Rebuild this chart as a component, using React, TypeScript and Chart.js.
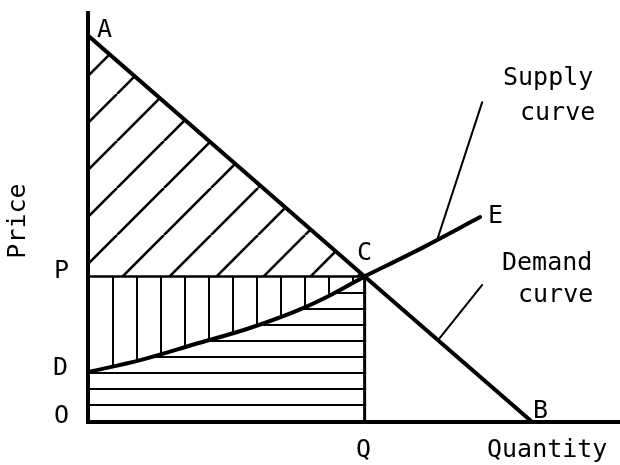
import { useEffect, useRef } from 'react';
import { Chart, registerables } from 'chart.js';

Chart.register(...registerables);

// ---- data (quantity 0..100, price 0..100) ----
const demandQuantity = [0, 83.5];          // A ... B
const demandPrice = [94.5, 0];
const eqQuantity = 52;                       // Q (point C)
const eqPrice = 35.6;                        // P (point C)
const supplyQuantity = [0, 10, 20, 30, 40, 46, 52, 63, 73.7];   // D ... C ... E
const supplyPrice = [12.2, 15.2, 19.0, 22.8, 27.6, 31.3, 35.6, 42.7, 50.1];
const supplyLeaderQuantity = [74.1, 65.6];
const supplyLeaderPrice = [78.2, 44.4];
const demandLeaderQuantity = [74.1, 65.8];
const demandLeaderPrice = [33.5, 20.0];

const FONT = '25px "DejaVu Sans Mono"';

type P = { x: number; y: number };
const pts = (xs: number[], ys: number[]): P[] => xs.map((x, i) => ({ x, y: ys[i] }));

function makePattern(kind: 'diag' | 'vert' | 'horiz'): CanvasPattern {
  const c = document.createElement('canvas');
  const g = c.getContext('2d')!;
  let tx = 0, ty = 0;
  if (kind === 'diag') {
    const s = 47;
    c.width = s; c.height = s;
    g.strokeStyle = '#000';
    g.lineWidth = 2.6;
    for (const k of [-s, 0, s]) {
      g.beginPath();
      g.moveTo(k, s);
      g.lineTo(k + s, 0);
      g.stroke();
    }
    tx = 23;
  } else if (kind === 'vert') {
    c.width = 24; c.height = 8;
    g.fillStyle = '#000';
    g.fillRect(0, 0, 2, 8);
    tx = 16;
  } else {
    c.width = 8; c.height = 16;
    g.fillStyle = '#000';
    g.fillRect(0, 0, 8, 2);
    ty = 4;
  }
  const p = g.createPattern(c, 'repeat')!;
  p.setTransform(new DOMMatrix([1, 0, 0, 1, tx, ty]));
  return p;
}

export default function App() {
  const ref = useRef<HTMLCanvasElement>(null);

  useEffect(() => {
    const canvas = ref.current!;
    const diag = makePattern('diag');
    const vert = makePattern('vert');
    const horiz = makePattern('horiz');

    const supplyAll = pts(supplyQuantity, supplyPrice);
    const supplyLeft = supplyAll.filter((p) => p.x <= eqQuantity);
    const supplyRight = supplyAll.filter((p) => p.x >= eqQuantity);
    const A = { x: demandQuantity[0], y: demandPrice[0] };
    const B = { x: demandQuantity[1], y: demandPrice[1] };
    const C = { x: eqQuantity, y: eqPrice };

    const overlay = {
      id: 'overlay',
      afterDatasetsDraw(chart: any) {
        const ctx = chart.ctx as CanvasRenderingContext2D;
        const xs = chart.scales.x;
        const ys = chart.scales.y;
        const x0 = xs.getPixelForValue(0);
        const y0 = ys.getPixelForValue(0);
        ctx.save();
        ctx.strokeStyle = '#000';
        ctx.lineWidth = 4;
        ctx.lineCap = 'square';
        ctx.beginPath();
        ctx.moveTo(x0, ys.getPixelForValue(100));
        ctx.lineTo(x0, y0);
        ctx.lineTo(xs.getPixelForValue(100), y0);
        ctx.stroke();

        ctx.fillStyle = '#000';
        ctx.font = FONT;
        ctx.textAlign = 'left';
        ctx.textBaseline = 'alphabetic';
        const labels: [string, number, number][] = [
          ['A', 97, 37],
          ['Supply', 503, 85],
          ['curve', 520, 120],
          ['E', 488, 223],
          ['C', 357, 260],
          ['Demand', 502, 270],
          ['curve', 518, 302],
          ['P', 54, 278],
          ['D', 53, 375],
          ['O', 54, 423],
          ['B', 533, 418],
          ['Q', 356, 457],
          ['Quantity', 487, 457],
        ];
        for (const [t, x, y] of labels) ctx.fillText(t, x, y);

        ctx.translate(25, 221);
        ctx.rotate(-Math.PI / 2);
        ctx.textAlign = 'center';
        ctx.fillText('Price', 0, 0);
        ctx.restore();
      },
    };

    const chart = new Chart(canvas, {
      type: 'line',
      data: {
        datasets: [
          {
            label: 'P line',
            data: [{ x: 0, y: eqPrice }, C],
            borderWidth: 2.5,
            fill: { target: 1, above: vert, below: vert } as any,
          },
          {
            label: 'Supply D-C',
            data: supplyLeft,
            borderWidth: 4,
            cubicInterpolationMode: 'monotone',
            fill: { target: 'origin', above: horiz, below: horiz } as any,
          },
          {
            label: 'Supply C-E',
            data: supplyRight,
            borderWidth: 4,
            cubicInterpolationMode: 'monotone',
            fill: false,
          },
          {
            label: 'Demand A-C',
            data: [A, C],
            borderWidth: 4,
            fill: { value: eqPrice, above: diag, below: diag } as any,
          },
          {
            label: 'Demand C-B',
            data: [C, B],
            borderWidth: 4,
            fill: false,
          },
          {
            label: 'Q line',
            data: [{ x: eqQuantity, y: 0 }, C],
            borderWidth: 3,
            fill: false,
          },
          {
            label: 'Supply leader',
            data: pts(supplyLeaderQuantity, supplyLeaderPrice),
            borderWidth: 2,
            fill: false,
          },
          {
            label: 'Demand leader',
            data: pts(demandLeaderQuantity, demandLeaderPrice),
            borderWidth: 2,
            fill: false,
          },
        ],
      },
      options: {
        responsive: false,
        animation: false,
        devicePixelRatio: 1,
        layout: { padding: { left: 88, right: 0, top: 13, bottom: 43 } },
        scales: {
          x: { type: 'linear', min: 0, max: 100, display: false },
          y: { type: 'linear', min: 0, max: 100, display: false },
        },
        plugins: { legend: { display: false }, tooltip: { enabled: false } },
        elements: {
          point: { radius: 0 },
          line: { borderColor: '#000', borderCapStyle: 'round', borderJoinStyle: 'round', tension: 0 },
        },
      },
      plugins: [overlay],
    });
    return () => chart.destroy();
  }, []);

  return (
    <div style={{ position: 'fixed', left: 0, top: 0, width: 620, height: 465, background: '#fff' }}>
      <canvas ref={ref} width={620} height={465} style={{ display: 'block' }} />
    </div>
  );
}
